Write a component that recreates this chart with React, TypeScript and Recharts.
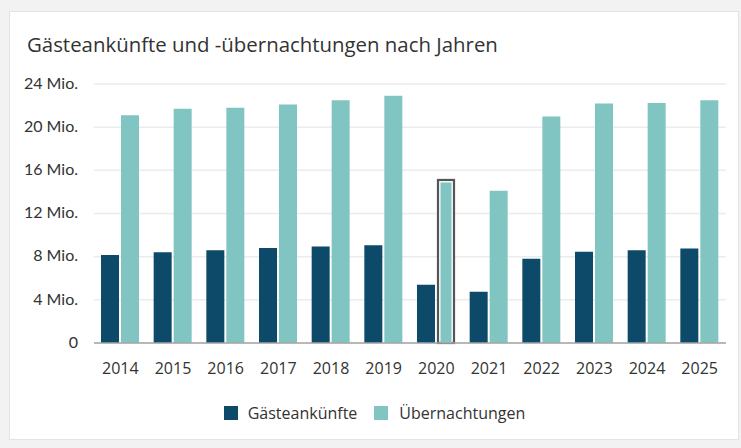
import React from 'react';
import { BarChart, Bar, XAxis, YAxis, CartesianGrid, Legend, Rectangle } from 'recharts';

const YEARS = ['2014', '2015', '2016', '2017', '2018', '2019', '2020', '2021', '2022', '2023', '2024', '2025'];
// values in Mio.
const ARRIVALS = [8.15, 8.4, 8.6, 8.8, 8.95, 9.05, 5.4, 4.75, 7.8, 8.45, 8.6, 8.75];
const NIGHTS = [21.1, 21.7, 21.8, 22.1, 22.5, 22.9, 15.2, 14.1, 21.0, 22.2, 22.25, 22.5];
const Y_TICKS = [0, 4, 8, 12, 16, 20, 24];
const HIGHLIGHT_YEAR = '2020';

const DARK = '#0d4a69';
const LIGHT = '#80c5c2';

const data = YEARS.map((year, i) => ({ year, arrivals: ARRIVALS[i], nights: NIGHTS[i] }));

// Übernachtungen bar, 2020 gets the selection outline
const NightsShape = (props: any) => {
  const { x, y, width, height, fill, payload } = props;
  if (payload.year !== HIGHLIGHT_YEAR) {
    return <Rectangle x={x} y={y} width={width} height={height} fill={fill} />;
  }
  return (
    <g>
      <rect x={x + 1} y={y + 1} width={width - 2} height={height - 1} fill="#fff" stroke="#555" strokeWidth={2.2} />
      <rect x={x + 3.5} y={y + 3.5} width={width - 7} height={height - 3.5} fill={fill} />
    </g>
  );
};

const LegendContent = () => (
  <div
    style={{
      display: 'flex',
      justifyContent: 'center',
      alignItems: 'center',
      height: 30,
      paddingLeft: 8,
      fontFamily: '"Open Sans", sans-serif',
      fontSize: 16,
      color: '#333',
    }}
  >
    <span style={{ width: 14, height: 14, background: DARK, marginRight: 10 }} />
    <span style={{ marginRight: 17 }}>Gästeankünfte</span>
    <span style={{ width: 14, height: 14, background: LIGHT, marginRight: 11 }} />
    <span>Übernachtungen</span>
  </div>
);

export default function App() {
  return (
    <div style={{ position: 'absolute', left: 0, top: 0, width: 741, height: 448, background: '#f2f2f2', overflow: 'hidden' }}>
      <div
        style={{
          position: 'absolute',
          left: 9,
          top: 11,
          width: 730,
          height: 429,
          boxSizing: 'border-box',
          background: '#fff',
          border: '1px solid #e3e3e3',
        }}
      />
      <div
        style={{
          position: 'absolute',
          left: 27,
          top: 30,
          fontFamily: '"Open Sans", sans-serif',
          fontSize: 20.4,
          color: '#333',
          whiteSpace: 'nowrap',
        }}
      >
        Gästeankünfte und -übernachtungen nach Jahren
      </div>
      <div style={{ position: 'absolute', left: 0, top: 0 }}>
        <BarChart
          width={741}
          height={448}
          data={data}
          margin={{ top: 84, right: 15, left: 0, bottom: 45 }}
          barSize={18}
          barGap={2}
        >
          <CartesianGrid vertical={false} stroke="#ebebf0" strokeWidth={1.5} />
          <XAxis
            dataKey="year"
            height={30}
            tickLine={false}
            tickMargin={14}
            axisLine={{ stroke: '#a6a6a6', strokeWidth: 1.5 }}
            tick={{ fill: '#333', fontSize: 16, fontFamily: '"Open Sans", sans-serif' }}
          />
          <YAxis
            width={94}
            domain={[0, 24]}
            ticks={Y_TICKS}
            interval={0}
            axisLine={false}
            tickLine={false}
            tickMargin={10}
            dy={-1}
            tickFormatter={(v: number) => (v === 0 ? '0' : `${v} Mio.`)}
            tick={{ fill: '#333', fontSize: 16, fontFamily: 'Lato, sans-serif' }}
          />
          <Legend verticalAlign="bottom" height={30} wrapperStyle={{ left: 0, width: 741, bottom: 20 }} content={LegendContent} />
          <Bar dataKey="arrivals" name="Gästeankünfte" fill={DARK} isAnimationActive={false} />
          <Bar dataKey="nights" name="Übernachtungen" fill={LIGHT} shape={NightsShape} isAnimationActive={false} />
        </BarChart>
      </div>
    </div>
  );
}
